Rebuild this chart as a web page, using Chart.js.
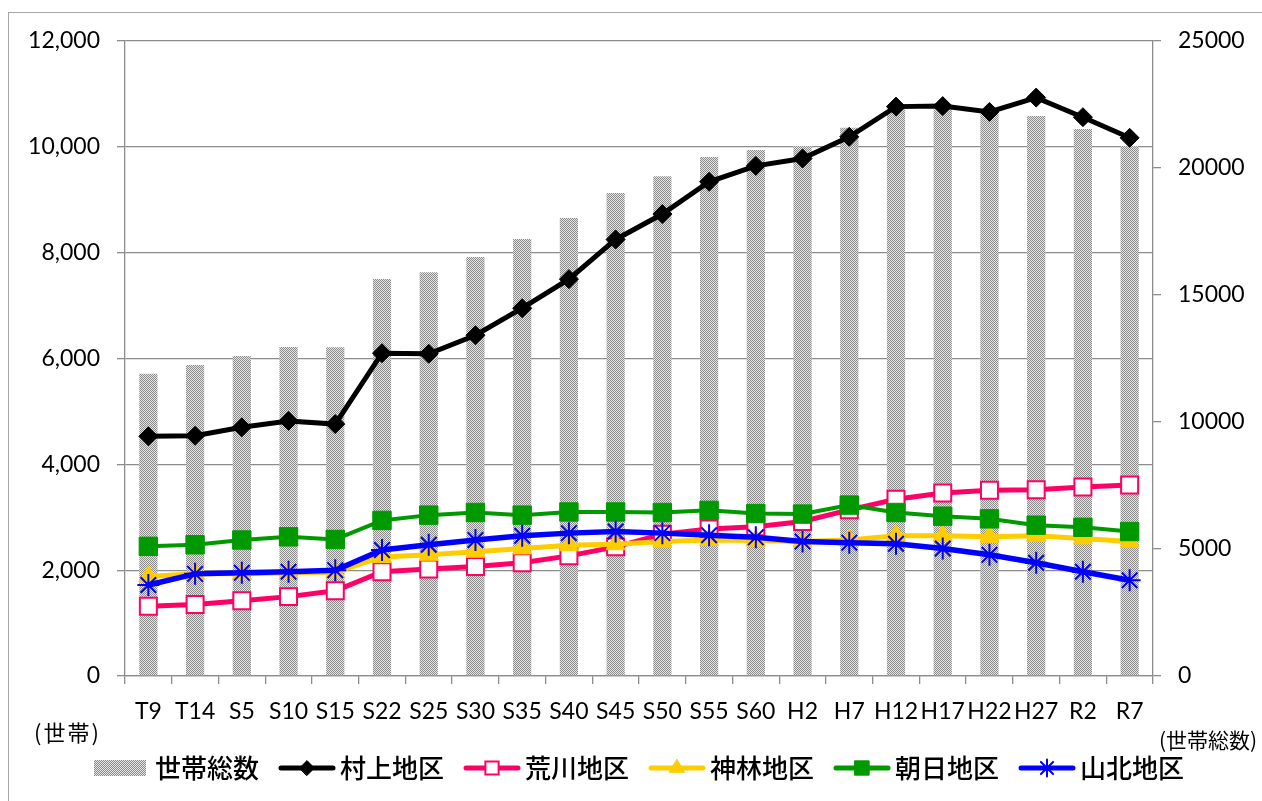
<!DOCTYPE html>
<html lang="ja">
<head>
<meta charset="UTF-8">
<title>世帯数の推移</title>
<script src="https://cdn.jsdelivr.net/npm/chart.js"></script>
<style>
  * { margin: 0; padding: 0; box-sizing: border-box; }
  body {
    width: 1262px; height: 801px; background: #fff;
    overflow: hidden; position: relative;
  }
  .frame {
    position: absolute; left: 8px; top: 12px;
    width: 1300px; height: 900px;
    border: 1.5px solid #a6a6a6;
  }
  .wrap { position: absolute; left: 0; top: 0; width: 1262px; height: 801px; }
  .unit {
    position: absolute; font-family: "Noto Sans CJK JP", sans-serif;
    color: #000; white-space: nowrap;
  }
</style>
</head>
<body>
<div class="frame"></div>
<div class="wrap"><canvas id="chart"></canvas></div>
<div class="unit" style="left:34px; top:715px; font-size:22px; letter-spacing:2px;">(世帯)</div>
<div class="unit" style="left:1159px; top:724px; font-size:21px;">(世帯総数)</div>

<script>
  const categories = ['T9', 'T14', 'S5', 'S10', 'S15', 'S22', 'S25', 'S30', 'S35', 'S40', 'S45',
    'S50', 'S55', 'S60', 'H2', 'H7', 'H12', 'H17', 'H22', 'H27', 'R2', 'R7'];

  // 世帯総数 (right axis)
  const totalHouseholds = [11900, 12240, 12600, 12950, 12940, 15630, 15900, 16500, 17200, 18030, 19020,
    19680, 20430, 20710, 20870, 21580, 22360, 22320, 22200, 22050, 21540, 20870];

  // districts (left axis)
  const murakami = [4530, 4540, 4700, 4820, 4760, 6100, 6090, 6440, 6950, 7500, 8250,
    8730, 9340, 9640, 9780, 10190, 10760, 10770, 10660, 10930, 10560, 10170];
  const arakawa = [1320, 1350, 1420, 1500, 1610, 1970, 2020, 2070, 2140, 2270, 2440,
    2680, 2780, 2820, 2920, 3140, 3340, 3460, 3510, 3520, 3570, 3610];
  const kamihayashi = [1880, 1930, 1930, 1950, 1960, 2250, 2290, 2350, 2410, 2470, 2490,
    2540, 2570, 2560, 2540, 2570, 2650, 2650, 2630, 2650, 2600, 2540];
  const asahi = [2450, 2480, 2570, 2630, 2580, 2940, 3040, 3090, 3040, 3100, 3100,
    3090, 3130, 3070, 3060, 3230, 3090, 3020, 2970, 2850, 2810, 2730];
  const sanpoku = [1720, 1930, 1950, 1970, 2000, 2380, 2480, 2570, 2650, 2700, 2730,
    2700, 2660, 2620, 2540, 2520, 2500, 2410, 2290, 2140, 1970, 1810];

  const leftTicks = { min: 0, max: 12000, step: 2000 };
  const rightTicks = { min: 0, max: 25000, step: 5000 };

  const canvas = document.getElementById('chart');
  const ctx = canvas.getContext('2d');

  // gray checker fill for the bars
  const tile = document.createElement('canvas');
  tile.width = 2; tile.height = 2;
  const tg = tile.getContext('2d');
  tg.fillStyle = '#e4e4e4'; tg.fillRect(0, 0, 2, 2);
  tg.fillStyle = '#8c8c8c'; tg.fillRect(0, 0, 1, 1); tg.fillRect(1, 1, 1, 1);
  const barFill = ctx.createPattern(tile, 'repeat');

  const lines = [
    { label: '村上地区', data: murakami, color: '#000000', fill: '#000000', style: 'rectRot', r: 9.5, bw: 1, lw: 5, order: 5 },
    { label: '荒川地区', data: arakawa, color: '#ff0066', fill: '#ffffff', style: 'rect', r: 12, bw: 2, lw: 5, order: 4 },
    { label: '神林地区', data: kamihayashi, color: '#ffcc00', fill: '#ffcc00', style: 'triangle', r: 11, bw: 1, lw: 5, order: 3 },
    { label: '朝日地区', data: asahi, color: '#009900', fill: '#009900', style: 'rect', r: 13, bw: 1, lw: 4, order: 2 },
    { label: '山北地区', data: sanpoku, color: '#0000ff', fill: '#0000ff', style: 'star', r: 11, bw: 2, lw: 5.5, order: 1 }
  ];

  // legend pictures: wide transparent canvas, content starts at offset 34
  const ICON_W = 100, ICON_OFF = 34;
  function legendIcon(draw) {
    const c = document.createElement('canvas');
    c.width = ICON_W; c.height = 26;
    draw(c.getContext('2d'), ICON_OFF);
    return c;
  }
  const icons = [
    legendIcon((g, o) => { g.fillStyle = barFill; g.fillRect(o, 5, 52, 16); })
  ].concat(lines.map(l => legendIcon((g, o) => {
    g.strokeStyle = l.color; g.lineWidth = 5; g.lineCap = 'round';
    g.beginPath(); g.moveTo(o + 2, 13); g.lineTo(o + 54, 13); g.stroke();
    g.fillStyle = l.fill; g.lineWidth = l.bw;
    Chart.helpers.drawPoint(g, { pointStyle: l.style, radius: l.r * 0.78, borderWidth: l.bw, rotation: 0 }, o + 28, 13);
  })));

  const tickFont = { family: 'Lato, "Noto Sans CJK JP", sans-serif', size: 23 };
  const gridColor = '#8c8c8c';

  new Chart(ctx, {
    type: 'bar',
    data: {
      labels: categories,
      datasets: [
        {
          type: 'bar',
          label: '世帯総数',
          data: totalHouseholds,
          yAxisID: 'y2',
          backgroundColor: barFill,
          borderWidth: 0,
          barPercentage: 0.39,
          categoryPercentage: 1,
          order: 10
        }
      ].concat(lines.map(l => ({
        type: 'line',
        label: l.label,
        data: l.data,
        yAxisID: 'y',
        borderColor: l.color,
        borderWidth: l.lw,
        backgroundColor: l.fill,
        pointStyle: l.style,
        pointRadius: l.r,
        pointBorderWidth: l.bw,
        pointBorderColor: l.color,
        pointBackgroundColor: l.fill,
        tension: 0,
        order: l.order
      })))
    },
    options: {
      responsive: true,
      maintainAspectRatio: false,
      animation: false,
      events: [],
      layout: { padding: { left: 0, right: 0, top: 41, bottom: 10 } },
      plugins: {
        tooltip: { enabled: false },
        legend: {
          position: 'bottom',
          labels: {
            usePointStyle: true,
            pointStyleWidth: 64,
            padding: 4,
            color: '#000',
            font: { family: '"Noto Sans CJK JP", sans-serif', size: 26, weight: '500' },
            generateLabels: chart => chart.data.datasets.map((ds, i) => ({
              text: ds.label,
              pointStyle: icons[i],
              datasetIndex: i,
              fillStyle: 'transparent',
              strokeStyle: 'transparent',
              lineWidth: 0,
              fontColor: '#000',
              hidden: false
            }))
          }
        }
      },
      scales: {
        x: {
          offset: true,
          grid: { drawOnChartArea: false, offset: true, tickLength: 8, color: gridColor, lineWidth: 1.3 },
          border: { color: gridColor, width: 1.3 },
          ticks: { font: tickFont, color: '#000', padding: 14, autoSkip: false, maxRotation: 0 },
          afterFit: s => { s.height = 75; }
        },
        y: {
          position: 'left',
          min: leftTicks.min,
          max: leftTicks.max,
          grid: { color: gridColor, lineWidth: 1.3, tickLength: 8 },
          border: { color: gridColor, width: 1.3 },
          ticks: {
            stepSize: leftTicks.step,
            font: tickFont,
            color: '#000',
            padding: 17,
            callback: v => v.toLocaleString('en-US')
          },
          afterFit: s => { s.width = 125; }
        },
        y2: {
          position: 'right',
          min: rightTicks.min,
          max: rightTicks.max,
          grid: { drawOnChartArea: false, color: gridColor, lineWidth: 1.3, tickLength: 8 },
          border: { color: gridColor, width: 1.3 },
          ticks: {
            stepSize: rightTicks.step,
            font: tickFont,
            color: '#000',
            padding: 17,
            callback: v => String(v)
          },
          afterFit: s => { s.width = 109; }
        }
      }
    }
  });
</script>
</body>
</html>
